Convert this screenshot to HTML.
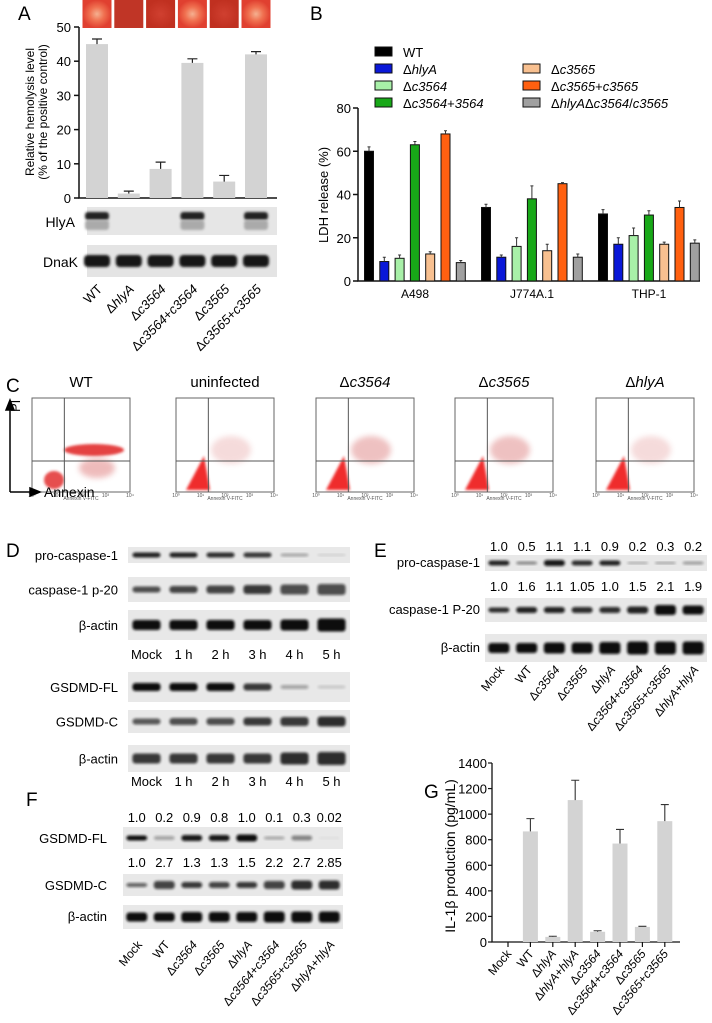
<!DOCTYPE html>
<html><head><meta charset="utf-8">
<style>
html,body{margin:0;padding:0;background:#fff;}
svg{display:block;font-family:"Liberation Sans",Arial,sans-serif;}
</style></head>
<body>
<svg id="fig" width="712" height="1023" viewBox="0 0 712 1023" xmlns="http://www.w3.org/2000/svg">
<defs>
<filter id="blur1" x="-20%" y="-50%" width="140%" height="200%"><feGaussianBlur stdDeviation="1.2"/></filter>
<filter id="blur3" x="-30%" y="-30%" width="160%" height="160%"><feGaussianBlur stdDeviation="3"/></filter>
<radialGradient id="plateHalo"><stop offset="0" stop-color="#f5b090"/><stop offset="0.5" stop-color="#f07050"/><stop offset="1" stop-color="#e04030"/></radialGradient>
<radialGradient id="plateDark"><stop offset="0" stop-color="#d04030"/><stop offset="1" stop-color="#c03020"/></radialGradient>
</defs>

<text x="18" y="20" font-size="19">A</text>
<text x="310" y="20" font-size="19">B</text>
<text x="6" y="392" font-size="19">C</text>
<text x="6" y="557" font-size="19">D</text>
<text x="374" y="557" font-size="19">E</text>
<text x="26" y="806" font-size="19">F</text>
<text x="424" y="798" font-size="19">G</text>

<g id="panelA"></g>
<g id="panelB"></g>
<g id="panelC"></g>
<g id="panelD"></g>
<g id="panelE"></g>
<g id="panelF"></g>
<g id="panelG"></g>
</svg>

<script>
const aCategories = ["WT","ΔhlyA","Δc3564","Δc3564+c3564","Δc3565","Δc3565+c3565"];
const aValues = [45, 1.3, 8.5, 39.5, 4.8, 42];
const aErrors = [1.5, 0.7, 2, 1.2, 1.8, 0.8];
const aTicks = [0,10,20,30,40,50];
const aHlyABands = [1,0,0,1,0,1];
const aPlateHalo = [1,0,0,1,0,1];

const bCategories = ["A498","J774A.1","THP-1"];
const bSeriesNames = ["WT","ΔhlyA","Δc3564","Δc3564+3564","Δc3565","Δc3565+c3565","ΔhlyAΔc3564/c3565"];
const bWT = [60, 34, 31];
const bHlyA = [9, 11, 17];
const bC3564 = [10.5, 16, 21];
const bC3564comp = [63, 38, 30.5];
const bC3565 = [12.5, 14, 17];
const bC3565comp = [68, 45, 34];
const bTriple = [8.5, 11, 17.5];
const bErrWT = [2, 1.5, 2];
const bErrHlyA = [2, 1, 3];
const bErrC3564 = [1.5, 4, 3.5];
const bErrC3564comp = [1.5, 6, 2];
const bErrC3565 = [1, 3, 1];
const bErrC3565comp = [1.5, 0.5, 3];
const bErrTriple = [1, 1.5, 1.5];
const bTicks = [0,20,40,60,80];

const gCategories = ["Mock","WT","ΔhlyA","ΔhlyA+hlyA","Δc3564","Δc3564+c3564","Δc3565","Δc3565+c3565"];
const gValues = [0, 865, 40, 1110, 80, 770, 118, 945];
const gErrors = [0, 100, 5, 155, 8, 110, 5, 130];
const gTicks = [0,200,400,600,800,1000,1200,1400];

const eProCasp = ["1.0","0.5","1.1","1.1","0.9","0.2","0.3","0.2"];
const eP20 = ["1.0","1.6","1.1","1.05","1.0","1.5","2.1","1.9"];
const fFL = ["1.0","0.2","0.9","0.8","1.0","0.1","0.3","0.02"];
const fC = ["1.0","2.7","1.3","1.3","1.5","2.2","2.7","2.85"];
const lanes8 = ["Mock","WT","Δc3564","Δc3565","ΔhlyA","Δc3564+c3564","Δc3565+c3565","ΔhlyA+hlyA"];
const dLanes = ["Mock","1 h","2 h","3 h","4 h","5 h"];

const NS="http://www.w3.org/2000/svg";
function mk(tag, parent, attrs){ const e=document.createElementNS(NS,tag); for(const k in attrs) e.setAttribute(k,attrs[k]); parent.appendChild(e); return e; }
function txt(parent, x, y, s, size, anchor, extra){ const t=mk("text",parent,Object.assign({x:x,y:y,"font-size":size,"text-anchor":anchor||"start"},extra||{})); fillLabel(t,s); return t; }
function fillLabel(t, s){
  const parts = s.split(/(hlyA|c3564|c3565|3564)/);
  parts.forEach(p=>{ if(!p) return; const ts=document.createElementNS(NS,"tspan"); ts.textContent=p; if(/^(hlyA|c3564|c3565|3564)$/.test(p) && t.getAttribute("data-italic")==="1") ts.setAttribute("font-style","italic"); t.appendChild(ts); });
}

(function(){
  const g=document.getElementById("panelA");
  const x0=79, xEnd=277, yTop=27, yBot=198, vmax=50;
  const y=v=>yBot-(v/vmax)*(yBot-yTop);
  const cx=i=>97+i*31.8;
  aCategories.forEach((c,i)=>{
    const p=mk("rect",g,{x:cx(i)-14.5,y:0,width:29,height:28,fill:aPlateHalo[i]?"url(#plateHalo)":(i===1?"#c03526":"url(#plateDark)")});
    
    
  });
  const ax=mk("path",g,{d:`M${x0} ${yTop}V${yBot}H${xEnd}`,stroke:"#111","stroke-width":1.5,fill:"none"});
  
  
  aTicks.forEach(t=>{
    mk("line",g,{x1:x0-5,x2:x0,y1:y(t),y2:y(t),stroke:"#111","stroke-width":1.5});
    const l=txt(g,x0-8,y(t)+5,String(t),13,"end");
    
    
  });
  const yt=mk("text",g,{x:0,y:0,"font-size":12,"text-anchor":"middle",transform:"translate(34,112) rotate(-90)"});
  yt.textContent="Relative hemolysis level";
  
  
  const yt2=mk("text",g,{x:0,y:0,"font-size":12,"text-anchor":"middle",transform:"translate(47,112) rotate(-90)"});
  yt2.textContent="(% of the positive control)";
  
  
  aValues.forEach((v,i)=>{
    const b=mk("rect",g,{x:cx(i)-11,y:y(v),width:22,height:yBot-y(v),fill:"#d3d3d3"});
    
    
    const e=mk("path",g,{d:`M${cx(i)} ${y(v)}V${y(v+aErrors[i])}M${cx(i)-5} ${y(v+aErrors[i])}H${cx(i)+5}`,stroke:"#222","stroke-width":1.2,fill:"none"});
    
    
  });
  const h=mk("rect",g,{x:87,y:207,width:190,height:28,fill:"#e6e6e6"});
  
  
  const d=mk("rect",g,{x:87,y:245,width:190,height:32,fill:"#e4e4e4"});
  
  
  aHlyABands.forEach((on,i)=>{ if(on){ mk("rect",g,{x:cx(i)-12,y:212,width:24,height:8,rx:3,fill:"#222",filter:"url(#blur1)"}); mk("rect",g,{x:cx(i)-12,y:220,width:24,height:10,rx:3,fill:"#aaa",filter:"url(#blur1)"}); } });
  aCategories.forEach((c,i)=>{ mk("rect",g,{x:cx(i)-13,y:255,width:26,height:12,rx:4,fill:"#151515",filter:"url(#blur1)"}); });
  let t=txt(g,75,227,"HlyA",14,"end");  
  t=txt(g,78,267,"DnaK",14,"end");  
  aCategories.forEach((c,i)=>{
    const l=mk("text",g,{x:0,y:0,"font-size":13,"text-anchor":"end","data-italic":"1",transform:`translate(${cx(i)+6},${290}) rotate(-45)`});
    fillLabel(l,c);
    
    
  });
})();

(function(){
  const g=document.getElementById("panelB");
  const x0=358, xEnd=700, yTop=108, yBot=281, vmax=80;
  const y=v=>yBot-(v/vmax)*(yBot-yTop);
  const colors=["#000000","#0a18d8","#a8f0a8","#18a818","#f8c090","#ff6010","#a0a0a0"];
  const series=[bWT,bHlyA,bC3564,bC3564comp,bC3565,bC3565comp,bTriple];
  const errs=[bErrWT,bErrHlyA,bErrC3564,bErrC3564comp,bErrC3565,bErrC3565comp,bErrTriple];
  const gx=ci=>369+ci*117;
  const ax=mk("path",g,{d:`M${x0} ${yTop}V${yBot}H${xEnd}`,stroke:"#111","stroke-width":1.5,fill:"none"});
  
  
  bTicks.forEach(t=>{
    mk("line",g,{x1:x0-5,x2:x0,y1:y(t),y2:y(t),stroke:"#111","stroke-width":1.5});
    const l=txt(g,x0-7,y(t)+5,String(t),13,"end");
    
    
  });
  const yt=mk("text",g,{x:0,y:0,"font-size":13,"text-anchor":"middle",transform:"translate(328,195) rotate(-90)"});
  yt.textContent="LDH release (%)";
  
  
  bCategories.forEach((c,ci)=>{
    series.forEach((s,si)=>{
      const bx=gx(ci)+si*15.3-4.5, v=s[ci];
      const r=mk("rect",g,{x:bx,y:y(v),width:9,height:yBot-y(v),fill:colors[si],stroke:"#111","stroke-width":1});
      
      
      const e=mk("path",g,{d:`M${bx+4.5} ${y(v)}V${y(v+errs[si][ci])}M${bx+3} ${y(v+errs[si][ci])}H${bx+6}`,stroke:"#333","stroke-width":1,fill:"none"});
      
      
    });
    const l=txt(g,gx(ci)+46,298,c,12,"middle");
    
    
  });
  const legPos=[[375,52],[375,69],[375,86],[375,103],[523,69],[523,86],[523,103]];
  bSeriesNames.forEach((n,i)=>{
    const [lx,ly]=legPos[i];
    const r=mk("rect",g,{x:lx,y:ly-5,width:17,height:9,fill:colors[i],stroke:"#111","stroke-width":1});
    
    
    const t=mk("text",g,{x:lx+28,y:ly+5,"font-size":13,"data-italic":"1"});
    fillLabel(t,n);
    
    
  });
})();

const cTitles=["WT","uninfected","Δc3564","Δc3565","ΔhlyA"];
const cLefts=[32,176,316,455,596];
(function(){
  const g=document.getElementById("panelC");
  cTitles.forEach((ti,i)=>{
    const L=cLefts[i], T=398, W=98, H=94;
    const t=mk("text",g,{x:L+W/2,y:387,"font-size":15,"text-anchor":"middle","data-italic":"1"});
    fillLabel(t,ti);
    
    
    const box=mk("rect",g,{x:L,y:T,width:W,height:H,fill:"#fff",stroke:"#666","stroke-width":1});
    
    
    const cl=mk("g",g,{});
    if(i===0){
      mk("ellipse",cl,{cx:L+62,cy:T+52,rx:30,ry:6,fill:"#e02020",opacity:0.85,filter:"url(#blur1)"});
      mk("ellipse",cl,{cx:L+65,cy:T+70,rx:18,ry:10,fill:"#d04040",opacity:0.35,filter:"url(#blur3)"});
      mk("ellipse",cl,{cx:L+22,cy:T+82,rx:10,ry:9,fill:"#e02020",opacity:0.8,filter:"url(#blur1)"});
    } else {
      mk("path",cl,{d:`M${L+10} ${T+H-2} L${L+28} ${T+58} L${L+34} ${T+H-2} Z`,fill:"#ee1818",opacity:0.9,filter:"url(#blur1)"});
      mk("ellipse",cl,{cx:L+55,cy:T+52,rx:20,ry:14,fill:"#d05050",opacity:i===2||i===3?0.35:0.2,filter:"url(#blur3)"});
    }
    
    
    mk("line",g,{x1:L+W*0.33,x2:L+W*0.33,y1:T,y2:T+H,stroke:"#555","stroke-width":1});
    mk("line",g,{x1:L,x2:L+W,y1:T+H*0.67,y2:T+H*0.67,stroke:"#555","stroke-width":1});
    const xl=txt(g,L+W/2,T+H+8,"Annexin V-FITC",5,"middle",{fill:"#555"});
    
    
    ["10⁰","10¹","10²","10³","10⁴"].forEach((s,k)=>{ txt(g,L+k*W/4,T+H+5,s,5,"middle",{fill:"#555"}); });
  });
  const ar=mk("path",g,{d:"M10 492V402M6 410L10 400L14 410Z M10 492H38M30 488L40 492L30 496Z",stroke:"#000","stroke-width":1.5,fill:"#000"});
  
  
  let t=mk("text",g,{x:0,y:0,"font-size":13,transform:"translate(20,412) rotate(-90)"}); t.textContent="PI";
   
  t=txt(g,44,497,"Annexin",14,"start");  
})();

function blot(g, x, y, w, h, n, intens, heights, name){
  const bg=mk("rect",g,{x:x,y:y,width:w,height:h,fill:"#e8e8e8"});
  
  
  const lw=w/n;
  intens.forEach((a,i)=>{
    if(a<=0) return;
    const bh=heights?heights[i]:6;
    mk("rect",g,{x:x+i*lw+lw*0.12,y:y+h/2-bh/2,width:lw*0.76,height:bh,rx:3,fill:"#111",opacity:a,filter:"url(#blur1)"});
  });
}

(function(){
  const g=document.getElementById("panelD");
  const X=128,W=222;
  const rows=[
    ["pro-caspase-1",547,16,[0.9,0.9,0.85,0.8,0.3,0.12],[5,5,5,5,3,2]],
    ["caspase-1 p-20",577,25,[0.7,0.75,0.75,0.8,0.7,0.7],[6,7,8,9,10,11]],
    ["β-actin",610,30,[1,1,1,1,1,1],[10,10,10,10,11,13]],
    ["GSDMD-FL",672,30,[1,1,1,0.8,0.3,0.15],[8,8,8,7,4,3]],
    ["GSDMD-C",710,23,[0.65,0.7,0.7,0.8,0.8,0.85],[6,7,7,8,9,10]],
    ["β-actin",745,27,[0.8,0.8,0.8,0.8,0.85,0.85],[10,10,10,10,12,13]]
  ];
  rows.forEach(r=>{
    blot(g,X,r[1],W,r[2],6,r[3],r[4],"d-blot-"+r[0].replace(/[^a-z0-9]+/gi,"-").toLowerCase());
    const l=txt(g,118,r[1]+r[2]/2+5,r[0],13,"end");
    
    
  });
  [655,782].forEach(yy=>{
    dLanes.forEach((s,i)=>{
      const l=txt(g,X+(i+0.5)*W/6,yy+4,s,13,"middle");
      
      
    });
  });
})();

(function(){
  const g=document.getElementById("panelE");
  const X=485,W=222,lw=W/8;
  blot(g,X,555,W,16,8,[0.9,0.45,0.95,0.85,0.9,0.3,0.35,0.35],[5,3,6,5,5,2,2,3],"e-blot-pro-caspase-1");
  blot(g,X,598,W,24,8,[0.85,0.9,0.9,0.85,0.85,0.9,1,1],[5,6,6,6,6,7,10,9],"e-blot-caspase-1-p20");
  blot(g,X,634,W,28,8,[1,1,1,1,1,1,1,1],[10,10,11,11,12,13,13,13],"e-blot-beta-actin");
  [["pro-caspase-1",567],["caspase-1 P-20",614],["β-actin",652]].forEach(r=>{
    const l=txt(g,480,r[1],r[0],13,"end");
    
    
  });
  eProCasp.forEach((s,i)=>{ const l=txt(g,X+(i+0.5)*lw,551,s,13,"middle");   });
  eP20.forEach((s,i)=>{ const l=txt(g,X+(i+0.5)*lw,591,s,13,"middle");   });
  lanes8.forEach((s,i)=>{
    const l=mk("text",g,{x:0,y:0,"font-size":12,"text-anchor":"end","data-italic":"1",transform:`translate(${X+(i+0.5)*lw+6},${670}) rotate(-50)`});
    fillLabel(l,s);
    
    
  });
})();

(function(){
  const g=document.getElementById("panelF");
  const X=123,W=220,lw=W/8;
  blot(g,X,827,W,22,8,[1,0.3,0.95,0.95,1,0.3,0.45,0.05],[5,4,6,6,7,3,5,2],"f-blot-gsdmd-fl");
  blot(g,X,874,W,22,8,[0.6,0.75,0.8,0.75,0.8,0.75,0.85,0.85],[4,8,6,6,6,8,9,9],"f-blot-gsdmd-c");
  blot(g,X,905,W,24,8,[1,1,1,1,1,1,1,1],[9,9,10,10,10,11,11,11],"f-blot-beta-actin");
  [["GSDMD-FL",843],["GSDMD-C",890],["β-actin",921]].forEach(r=>{
    const l=txt(g,107,r[1],r[0],13,"end");
    
    
  });
  fFL.forEach((s,i)=>{ const l=txt(g,X+(i+0.5)*lw,822,s,13,"middle");   });
  fC.forEach((s,i)=>{ const l=txt(g,X+(i+0.5)*lw,867,s,13,"middle");   });
  lanes8.forEach((s,i)=>{
    const l=mk("text",g,{x:0,y:0,"font-size":12,"text-anchor":"end","data-italic":"1",transform:`translate(${X+(i+0.5)*lw+6},${945}) rotate(-50)`});
    fillLabel(l,s);
    
    
  });
})();

(function(){
  const g=document.getElementById("panelG");
  const x0=492, xEnd=680, yTop=763, yBot=942, vmax=1400;
  const y=v=>yBot-(v/vmax)*(yBot-yTop);
  const cx=i=>508+i*22.4;
  const ax=mk("path",g,{d:`M${x0} ${yTop}V${yBot}H${xEnd}`,stroke:"#111","stroke-width":1.3,fill:"none"});
  
  
  gTicks.forEach(t=>{
    mk("line",g,{x1:x0-4,x2:x0,y1:y(t),y2:y(t),stroke:"#111","stroke-width":1.2});
    const l=txt(g,x0-5,y(t)+5,String(t),13,"end");
    
    
  });
  const yt=mk("text",g,{x:0,y:0,"font-size":14,"text-anchor":"middle",transform:"translate(455,856) rotate(-90)"});
  yt.textContent="IL-1β production (pg/mL)";
  
  
  gValues.forEach((v,i)=>{
    mk("line",g,{x1:cx(i),x2:cx(i),y1:yBot,y2:yBot+5,stroke:"#111","stroke-width":1.2});
    if(v>0){
      const b=mk("rect",g,{x:cx(i)-7.5,y:y(v),width:15,height:yBot-y(v),fill:"#d3d3d3"});
      
      
      const e=mk("path",g,{d:`M${cx(i)} ${y(v)}V${y(v+gErrors[i])}M${cx(i)-4} ${y(v+gErrors[i])}H${cx(i)+4}`,stroke:"#333","stroke-width":1.1,fill:"none"});
      
      
    }
    const l=mk("text",g,{x:0,y:0,"font-size":12,"text-anchor":"end","data-italic":"1",transform:`translate(${cx(i)+4},${954}) rotate(-50)`});
    fillLabel(l,gCategories[i]);
    
    
  });
})();
</script>
</body></html>
